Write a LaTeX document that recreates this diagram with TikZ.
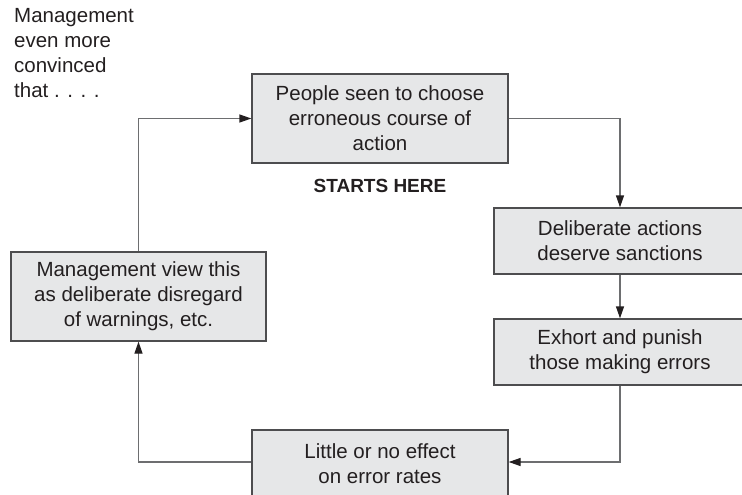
\documentclass[tikz,border=0pt]{standalone}
\usepackage{fontspec}
\setmainfont{Liberation Sans}
\usetikzlibrary{arrows.meta}
\definecolor{boxfill}{HTML}{E6E7E8}
\definecolor{boxline}{HTML}{4D4D4F}
\definecolor{conn}{HTML}{6D6E70}
\definecolor{txt}{HTML}{231F20}
\begin{document}
\begin{tikzpicture}[x=1pt,y=-1pt,
  box/.style={draw=boxline, fill=boxfill, line width=1.3pt, inner sep=0pt,
    align=center, text=txt, font=\fontsize{20.5}{25}\selectfont},
  wide/.style={minimum width=256pt, minimum height=89pt},
  short/.style={minimum width=252pt, minimum height=66pt},
  link/.style={draw=conn, line width=1.3pt, -{Triangle[length=12pt,width=8pt,color=txt]}},
  lbl/.style={text=txt, inner sep=0pt}]
\useasboundingbox (0,0) rectangle (742,495);
\clip (0,0) rectangle (742,495);
\node[box, wide] (top) at (380,118.5) {People seen to choose\\erroneous course of\\action};
\node[box, short] (r1) at (620,241) {Deliberate actions\\deserve sanctions};
\node[box, short] (r2) at (620,352) {Exhort and punish\\those making errors};
\node[box, minimum width=256pt, minimum height=72pt, text depth=4pt] (bot) at (380,466) {Little or no effect\\on error rates};
\node[box, minimum width=255pt, minimum height=89pt] (left) at (138.5,296.5) {Management view this\\as deliberate disregard\\of warnings, etc.};
\node[lbl, anchor=north west, align=left, font=\fontsize{20.5}{25}\selectfont] (note) at (14,8) {Management\\even more\\convinced\\that . . . .};
\node[lbl, font=\bfseries\fontsize{19}{22}\selectfont] (start) at (380,186) {STARTS HERE};
\coordinate (bin) at (bot.west |- 0,462);
\coordinate (bout) at (bot.east |- 0,462);
\draw[link] (top.east) -| (r1.north);
\draw[link] (r1.south) -- (r2.north);
\draw[link] (r2.south) |- (bout);
\draw[link] (bin) -| (left.south);
\draw[link] (left.north) |- (top.west);
\end{tikzpicture}
\end{document}
